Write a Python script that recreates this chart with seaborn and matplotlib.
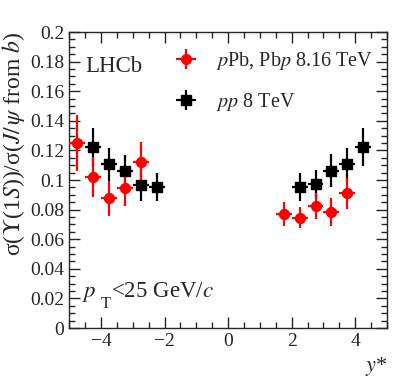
import numpy as np
import pandas as pd
import matplotlib
matplotlib.use('Agg')
import matplotlib.pyplot as plt
import seaborn as sns

# pPb / Pbp 8.16 TeV
ppb_y = [-4.75, -4.25, -3.75, -3.25, -2.75, 1.75, 2.25, 2.75, 3.25, 3.75]
ppb_ratio = [0.125, 0.102, 0.0876, 0.0944, 0.112, 0.077, 0.0745, 0.0824, 0.0782, 0.091]
ppb_err = [0.019, 0.0135, 0.012, 0.012, 0.014, 0.008, 0.007, 0.0088, 0.0094, 0.0105]

# pp 8 TeV (mirrored)
pp_y = [-4.25, -3.75, -3.25, -2.75, -2.25, 2.25, 2.75, 3.25, 3.75, 4.25]
pp_ratio = [0.1223, 0.1106, 0.1061, 0.0966, 0.0955, 0.0955, 0.0971, 0.1063, 0.1106, 0.1225]
pp_err = [0.013, 0.011, 0.011, 0.011, 0.0095, 0.0095, 0.010, 0.011, 0.011, 0.0128]

bin_half = 0.25

sns.set_theme(style='ticks')
plt.rcParams['font.family'] = ['Liberation Serif', 'DejaVu Serif']
plt.rcParams['mathtext.fontset'] = 'stix'
plt.rcParams['xtick.direction'] = 'in'
plt.rcParams['ytick.direction'] = 'in'

fig = plt.figure(figsize=(4.07, 3.91), dpi=100)
ax = fig.add_axes([0.170, 0.161, 0.781, 0.757])

df_ppb = pd.DataFrame({'y': ppb_y, 'r': ppb_ratio})
df_pp = pd.DataFrame({'y': pp_y, 'r': pp_ratio})

h1 = ax.errorbar(ppb_y, ppb_ratio, yerr=ppb_err, xerr=bin_half, fmt='o', color='red',
                 ms=7, elinewidth=1.6, capsize=0, label=r'$p$Pb, Pb$p$ 8.16 TeV', zorder=3)
h2 = ax.errorbar(pp_y, pp_ratio, yerr=pp_err, xerr=bin_half, fmt='s', color='black',
                 ms=7, elinewidth=1.6, capsize=0, label=r'$pp$ 8 TeV', zorder=2)
sns.scatterplot(data=df_ppb, x='y', y='r', ax=ax, color='red', marker='o', s=50,
                edgecolor='red', zorder=4, legend=False)
sns.scatterplot(data=df_pp, x='y', y='r', ax=ax, color='black', marker='s', s=50,
                edgecolor='black', zorder=3, legend=False)

ax.set_xlim(-5, 5)
ax.set_ylim(0, 0.2)
ax.set_xticks([-4, -2, 0, 2, 4])
ax.set_xticklabels(['\u22124', '\u22122', '0', '2', '4'])
ax.set_yticks(np.arange(0, 0.201, 0.02))
ax.set_yticklabels(['0', '0.02', '0.04', '0.06', '0.08', '0.1', '0.12', '0.14', '0.16', '0.18', '0.2'])
ax.xaxis.set_minor_locator(matplotlib.ticker.MultipleLocator(0.5))
ax.yaxis.set_minor_locator(matplotlib.ticker.MultipleLocator(0.005))
ax.tick_params(which='both', top=True, right=True, labelsize=14, width=1)
ax.tick_params(which='major', length=8)
ax.tick_params(which='minor', length=4)
for s in ax.spines.values():
    s.set_linewidth(1)

ax.set_xlabel(r'$y$*', fontsize=16, loc='right')
ax.set_ylabel('\u03c3(' + r'$\Upsilon$' + '(1' + r'$S$' + '))/\u03c3(' + r'$J/\,\psi$' + ' from ' + r'$b$' + ')',
              fontsize=17, loc='top', labelpad=2)

ax.text(0.05, 0.865, 'LHCb', transform=ax.transAxes, fontsize=16.5)
# p_T label built from pieces so the subscript sits low like the original
ax.text(0.04, 0.105, r'$p$', transform=ax.transAxes, fontsize=16.5)
ax.text(0.098, 0.068, 'T', transform=ax.transAxes, fontsize=12)
ax.text(0.133, 0.105, '<25 GeV/' + r'$c$', transform=ax.transAxes, fontsize=16.5)

ax.legend(handles=[h1, h2], loc='upper left', bbox_to_anchor=(0.24, 1.0), frameon=False,
          fontsize=14.5, labelspacing=0.95, handlelength=2.2, handletextpad=0.4)

fig.savefig('out.png', dpi=100)
